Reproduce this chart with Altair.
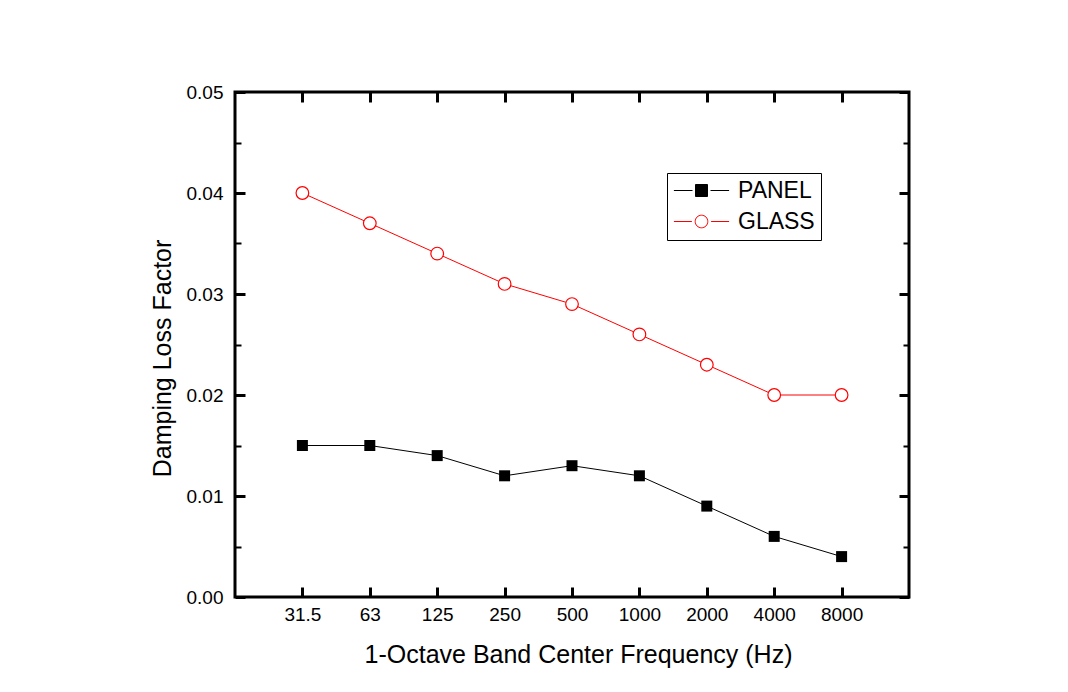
import altair as alt
import pandas as pd

freqs = ["31.5", "63", "125", "250", "500", "1000", "2000", "4000", "8000"]
panel = [0.015, 0.015, 0.014, 0.012, 0.013, 0.012, 0.009, 0.006, 0.004]
glass = [0.040, 0.037, 0.034, 0.031, 0.029, 0.026, 0.023, 0.020, 0.020]
series_names = ["PANEL", "GLASS"]
y_major = [0.0, 0.01, 0.02, 0.03, 0.04, 0.05]
y_minor = [0.005, 0.015, 0.025, 0.035, 0.045]

df = pd.DataFrame({
    "freq": freqs * 2,
    "series": ["PANEL"] * len(freqs) + ["GLASS"] * len(freqs),
    "value": panel + glass,
})

FONT = "Liberation Sans"
RED = "#FF0000"

xscale = alt.Scale(type="point", domain=freqs, padding=1)
yscale = alt.Scale(domain=[0, 0.05], nice=False, zero=True)


def X(axis):
    return alt.X("freq:N", scale=xscale, sort=freqs, axis=axis)


def Y(axis):
    return alt.Y("value:Q", scale=yscale, axis=axis)


def tick_axis(orient, size, width, values=None):
    kw = dict(orient=orient, offset=-size, tickSize=size, tickWidth=width,
              tickColor="black", labels=False, domain=False, grid=False, title=None)
    if values is not None:
        kw["values"] = values
    return alt.Axis(**kw)


x_main = alt.Axis(orient="bottom", title="1-Octave Band Center Frequency (Hz)",
                  ticks=False, tickSize=0, domain=False, grid=False, labelAngle=0,
                  labelFont=FONT, labelFontSize=19, labelColor="black", labelPadding=8,
                  titleFont=FONT, titleFontSize=25, titleFontWeight="normal",
                  titleColor="black", titlePadding=18, titleX=343)
y_main = alt.Axis(orient="left", title="Damping Loss Factor", values=y_major, format=".2f",
                  ticks=False, tickSize=0, domain=False, grid=False,
                  labelFont=FONT, labelFontSize=19, labelColor="black", labelPadding=12,
                  titleFont=FONT, titleFontSize=25, titleFontWeight="normal",
                  titleColor="black", titlePadding=11, titleY=266)

# legend glyphs: unit = 6px (symbol size 144)
panel_path = "M-4.6,0H-1.5M1.5,0H4.6M-1,-1H1V1H-1Z"
glass_path = ("M-4.6,0H-1.6M1.6,0H4.6M1.05,0A1.05,1.05 0 1,1 -1.05,0"
              "A1.05,1.05 0 1,1 1.05,0Z")

leg = alt.Legend(title=None, orient="none", legendX=432, legendY=81,
                 strokeColor="black", fillColor="white", padding=6,
                 symbolSize=144, symbolStrokeWidth=1, symbolOpacity=1,
                 symbolOffset=17,
                 labelFont=FONT, labelFontSize=23, labelColor="black",
                 labelOffset=25, rowPadding=7)

base = alt.Chart(df)

glass_line = base.transform_filter("datum.series == 'GLASS'").mark_line(
    color=RED, strokeWidth=1).encode(x=X(x_main), y=Y(y_main))

panel_line = base.transform_filter("datum.series == 'PANEL'").mark_line(
    color="black", strokeWidth=1).encode(
    x=X(tick_axis("bottom", 10, 3)), y=Y(tick_axis("left", 10, 3, y_major)))

glass_pts = base.transform_filter("datum.series == 'GLASS'").mark_point(
    shape="circle", size=160, filled=True, fill="white", stroke=RED,
    strokeWidth=1.2, opacity=1).encode(
    x=X(tick_axis("top", 10, 3)), y=Y(tick_axis("left", 6, 2, y_minor)))

panel_pts = base.transform_filter("datum.series == 'PANEL'").mark_point(
    shape="square", size=121, filled=True, color="black", opacity=1).encode(
    x=X(None), y=Y(tick_axis("right", 10, 3, y_major)))

legend_layer = base.transform_filter("false").mark_point(
    size=144, opacity=1, strokeWidth=1).encode(
    x=X(None), y=Y(tick_axis("right", 6, 2, y_minor)),
    shape=alt.Shape("series:N", scale=alt.Scale(domain=series_names,
                                                 range=[panel_path, glass_path]), legend=leg),
    fill=alt.Fill("series:N", scale=alt.Scale(domain=series_names,
                                               range=["black", "white"]), legend=leg),
    stroke=alt.Stroke("series:N", scale=alt.Scale(domain=series_names,
                                                   range=["black", RED]), legend=leg),
)

chart = alt.layer(glass_line, panel_line, glass_pts, panel_pts, legend_layer).resolve_axis(
    x="independent", y="independent"
).properties(
    width=674, height=505,
    autosize=alt.AutoSizeParams(type="none"),
    padding={"left": 227, "top": 84, "right": 151, "bottom": 87},
    background="white",
).configure_view(stroke="black", strokeWidth=3)

chart.save("out.html", embed_options={"renderer": "svg", "actions": False})
